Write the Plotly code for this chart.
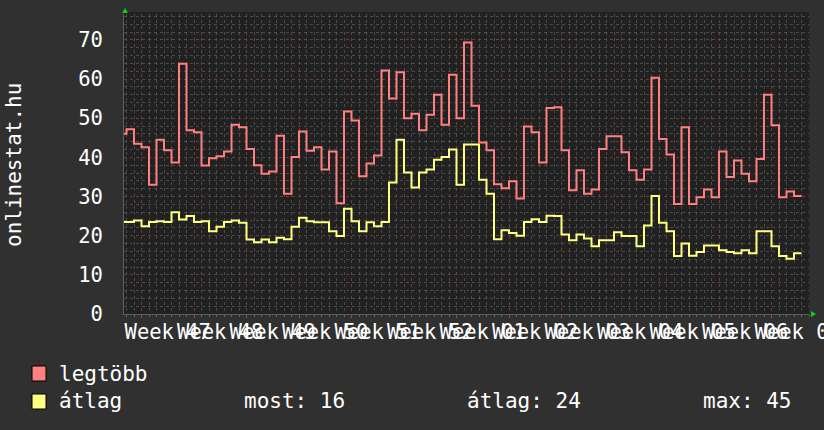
import pandas as pd
import plotly.graph_objects as go

# ---------------- data ----------------
first_day = "2010-11-19"          # first (partially visible) daily sample
legtobb = [46.0, 47.2, 43.5, 42.6, 33.0, 44.5, 41.8, 38.7, 63.9, 46.9, 46.4, 37.9, 39.8, 40.3,
           41.5, 48.3, 47.7, 42.1, 38.0, 35.8, 36.4, 45.5, 30.7, 40.1, 46.6, 41.7, 42.6, 36.9,
           41.5, 28.3, 51.7, 49.4, 35.2, 38.4, 40.5, 62.2, 55.0, 61.7, 50.0, 51.1, 46.9, 50.9,
           56.0, 48.3, 61.1, 50.0, 69.3, 53.2, 43.8, 41.8, 33.1, 32.1, 33.9, 29.5, 47.9, 46.4,
           38.7, 52.6, 52.8, 41.8, 31.6, 36.7, 30.7, 31.8, 42.1, 45.4, 45.4, 41.3, 36.7, 34.3,
           36.9, 60.3, 44.7, 40.7, 28.1, 47.7, 28.1, 29.8, 31.8, 29.8, 41.5, 35.0, 39.2, 35.8,
           33.9, 39.6, 56.0, 48.2, 29.8, 31.3, 30.1]
atlag = [23.5, 23.5, 23.9, 22.4, 23.5, 23.7, 23.5, 26.0, 24.1, 25.0, 23.5, 23.7, 21.1, 22.3,
         23.5, 23.9, 23.3, 19.0, 18.3, 19.0, 18.3, 19.5, 19.1, 22.3, 24.6, 23.7, 23.4, 23.4,
         21.1, 19.9, 26.9, 23.7, 21.1, 23.4, 22.4, 23.5, 33.6, 44.5, 36.1, 32.3, 36.1, 36.9,
         39.4, 40.1, 42.0, 33.0, 43.3, 43.3, 34.3, 30.7, 19.1, 21.4, 20.7, 20.0, 23.5, 24.2,
         23.5, 25.1, 25.0, 20.3, 18.8, 20.3, 19.3, 17.3, 18.8, 18.8, 20.9, 19.9, 19.9, 17.3,
         22.6, 30.1, 23.3, 21.1, 14.8, 18.0, 14.9, 15.8, 17.5, 17.5, 16.3, 15.8, 15.5, 16.3,
         15.5, 21.1, 21.1, 17.3, 14.8, 14.1, 15.5]

first_week_start = "2010-11-22"
week_labels = ["Week 47", "Week 48", "Week 49", "Week 50", "Week 51", "Week 52", "Week 01",
               "Week 02", "Week 03", "Week 04", "Week 05", "Week 06", "Week 07"]
y_ticks = [0, 10, 20, 30, 40, 50, 60, 70]
series_names = ["legtöbb", "átlag"]
series_colors = ["#ff8080", "#ffff80"]
stat_names = ["most", "átlag", "max"]
stat_values = [16, 24, 45]
axis_title = "onlinestat.hu"

# ---------------- style ----------------
W, H = 824, 430
ML, MR, MT, MB = 124, 15, 14, 116
PW, PH = W - ML - MR, H - MT - MB
BG = "#303030"
PLOT_BG = "#212121"
MAJOR_GRID = "rgba(130,55,55,0.55)"
MINOR_GRID = "rgba(115,115,115,0.5)"
AXIS_COL = "#5e5e5e"
ARROW_COL = "#10d010"
MONO = "DejaVu Sans Mono"


def px(x):
    return (x - ML) / PW


def py(y):
    return (MT + PH - y) / PH


days = pd.date_range(first_day, periods=len(legtobb) + 1, freq="D")
week_starts = pd.date_range(first_week_start, periods=len(week_labels), freq="7D")
mid_weeks = week_starts + pd.Timedelta(hours=84)
x_range = [pd.Timestamp(first_week_start) - pd.Timedelta(hours=56),
           pd.Timestamp(first_week_start) + pd.Timedelta(days=89)]

fig = go.Figure()
fig.add_trace(go.Scatter(x=days, y=legtobb + legtobb[-1:], mode="lines", line_shape="hv",
                         line=dict(color=series_colors[0], width=2), name=series_names[0],
                         xaxis="x", yaxis="y"))
fig.add_trace(go.Scatter(x=days, y=atlag + atlag[-1:], mode="lines", line_shape="hv",
                         line=dict(color=series_colors[1], width=2), name=series_names[1],
                         xaxis="x2", yaxis="y"))

tickfont = dict(family=MONO, size=20.5, color="#ffffff")

fig.update_layout(
    width=W, height=H,
    margin=dict(l=ML, r=MR, t=MT, b=MB, pad=0, autoexpand=False),
    paper_bgcolor=BG, plot_bgcolor=PLOT_BG,
    showlegend=False,
    xaxis=dict(type="date", range=x_range, tickmode="array", tickvals=week_starts,
               showticklabels=False, showgrid=True, gridcolor=MAJOR_GRID, griddash="dot",
               gridwidth=1, ticks="outside", ticklen=3, tickcolor="#a04848",
               automargin=False,
               minor=dict(dtick=86400000, tick0=first_week_start, showgrid=True,
                          gridcolor=MINOR_GRID, griddash="dot", gridwidth=1,
                          ticks="outside", ticklen=2, tickcolor="#666666"),
               showline=True, linecolor=AXIS_COL, linewidth=1, zeroline=False),
    xaxis2=dict(type="date", range=x_range, overlaying="x", anchor="y", side="bottom",
                tickmode="array", tickvals=mid_weeks, ticktext=week_labels, tickangle=0,
                ticks="", showgrid=False, zeroline=False, showline=False, automargin=False,
                ticklabeloverflow="allow", tickfont=tickfont, ticklabelstandoff=3),
    yaxis=dict(range=[0, 76.6], tickmode="array", tickvals=y_ticks, showgrid=True,
               gridcolor=MAJOR_GRID, griddash="dot", gridwidth=1, automargin=False,
               minor=dict(dtick=2, tick0=0, showgrid=True, gridcolor=MINOR_GRID,
                          griddash="dot", gridwidth=1),
               zeroline=False, showline=True, linecolor=AXIS_COL, linewidth=1,
               ticks="", ticklabelstandoff=16, tickfont=tickfont),
)

# extra dark strip right of the last sample area and arrows (rrdtool style)
shapes = [
    dict(type="rect", xref="paper", yref="paper", x0=px(123), x1=px(809), y0=py(314),
         y1=py(12), fillcolor=PLOT_BG, line=dict(width=0), layer="below"),
    dict(type="path", xref="paper", yref="paper",
         path=f"M {px(122)} {py(13)} L {px(128)} {py(13)} L {px(125)} {py(8)} Z",
         fillcolor=ARROW_COL, line=dict(width=0)),
    dict(type="path", xref="paper", yref="paper",
         path=f"M {px(811)} {py(311)} L {px(811)} {py(317)} L {px(816)} {py(314)} Z",
         fillcolor=ARROW_COL, line=dict(width=0)),
]
# legend squares
sq_rows = [(366, 381), (394, 409)]
for col, (y0, y1) in zip(series_colors, sq_rows):
    shapes.append(dict(type="rect", xref="paper", yref="paper", x0=px(32), x1=px(46),
                       y0=py(y1), y1=py(y0), fillcolor=col, line=dict(color="#000000", width=1)))
fig.update_layout(shapes=shapes)

legfont = dict(family=MONO, size=21, color="#ffffff")
ann = [dict(text=axis_title, x=px(14), y=py(165), xref="paper", yref="paper",
            textangle=-90, showarrow=False, xanchor="center", yanchor="middle",
            font=dict(family=MONO, size=21, color="#ffffff"))]
row_y = [374, 401]
for name, yc in zip(series_names, row_y):
    ann.append(dict(text=name, x=px(57), y=py(yc), xref="paper", yref="paper",
                    showarrow=False, xanchor="left", yanchor="middle", font=legfont))
stat_x = [242, 465, 701]
for nm, val, xs in zip(stat_names, stat_values, stat_x):
    ann.append(dict(text=f"{nm}: {val}", x=px(xs), y=py(row_y[1]), xref="paper", yref="paper",
                    showarrow=False, xanchor="left", yanchor="middle", font=legfont))
fig.update_layout(annotations=ann)

fig.write_html("out.html", config={"displayModeBar": False},
               post_script="document.body.style.margin='0';"
                           "document.body.style.background='#303030';"
                           "document.body.style.overflow='hidden';")
